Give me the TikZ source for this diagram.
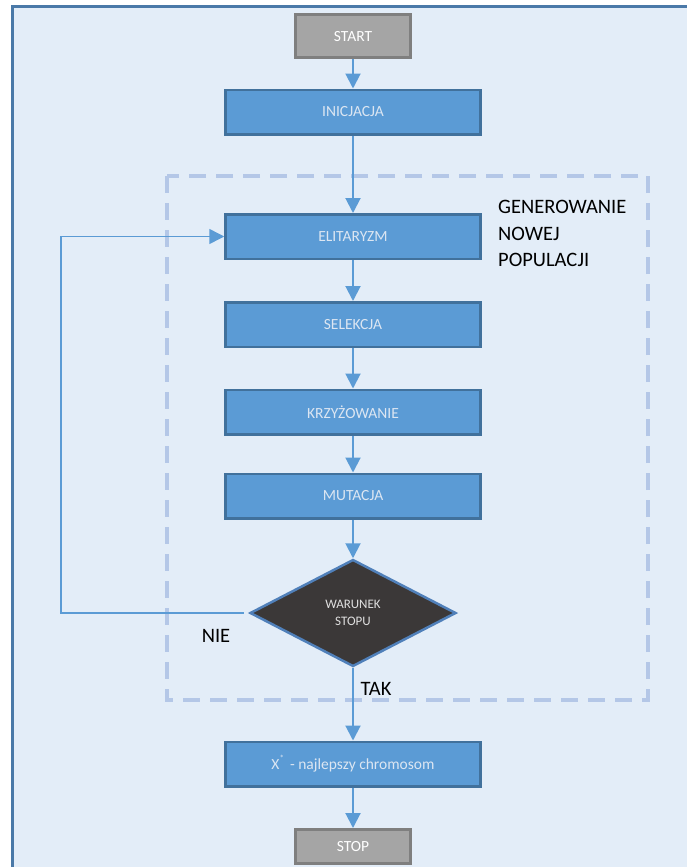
\documentclass[tikz,border=0pt]{standalone}
\usepackage{fontspec}
\setmainfont{Carlito}
\usetikzlibrary{arrows.meta,shapes.geometric}

\definecolor{pagefill}{HTML}{E3EDF8}
\definecolor{frameblue}{HTML}{4A79A8}
\definecolor{boxfill}{HTML}{5B9BD5}
\definecolor{boxedge}{HTML}{41719C}
\definecolor{boxtext}{HTML}{DCE6F2}
\definecolor{termfill}{HTML}{A5A5A5}
\definecolor{termedge}{HTML}{7F7F7F}
\definecolor{groupdash}{HTML}{B4C7E7}
\definecolor{decfill}{HTML}{3B3838}
\definecolor{decedge}{HTML}{5080BA}

\tikzset{
  stepbox/.style={draw=boxedge, fill=boxfill, line width=2.5pt,
    minimum width=255pt, minimum height=44.5pt, inner sep=0pt,
    text=boxtext, font=\fontsize{15.5}{18}\selectfont},
  termbox/.style={draw=termedge, fill=termfill, line width=3pt,
    minimum width=115pt, inner sep=0pt,
    text=white, font=\fontsize{15.5}{18}\selectfont},
  decision/.style={diamond, draw=decedge, fill=decfill, line width=2.5pt,
    minimum width=206pt, minimum height=107pt, inner sep=0pt, aspect=1.9,
    text=white!88!black, align=center, font=\fontsize{13}{17}\selectfont},
  flow/.style={draw=boxfill, line width=2pt,
    -{Triangle[length=15pt,width=15pt]}},
  backflow/.style={draw=boxfill, line width=1.5pt,
    -{Triangle[length=15pt,width=15pt]}},
  group/.style={draw=groupdash, line width=4pt, dash pattern=on 17pt off 10pt},
  label/.style={font=\fontsize{20.5}{26.5}\selectfont, text=black, inner sep=0pt}
}

\begin{document}
\begin{tikzpicture}[x=1pt, y=-1pt]
  \useasboundingbox (0,0) rectangle (687,867);
  \clip (0,0) rectangle (687,867);

  % page panel
  \draw[frameblue, fill=pagefill, line width=3pt] (12.5,6.8) rectangle (700,880);

  % group frame around the generation loop
  \draw[group] (167,176) rectangle (648,700);

  % flow steps
  \node[termbox, minimum height=43pt] (start) at (353,36.5) {START};
  \node[stepbox] (init) at (353,112) {INICJACJA};
  \node[stepbox] (elit) at (353,236.5) {ELITARYZM};
  \node[stepbox] (sel)  at (353,324.5) {SELEKCJA};
  \node[stepbox] (cross) at (353,412) {KRZYŻOWANIE};
  \node[stepbox] (mut)  at (353,496) {MUTACJA};
  \node[decision] (cond) at (353,613) {WARUNEK\\STOPU};
  \node[stepbox] (best) at (353,764)
    {X\raisebox{8pt}{\fontsize{9}{9}\selectfont *}\hspace{6pt}- najlepszy chromosom};
  \node[termbox, minimum height=34pt] (stop) at (353,846.5) {STOP};

  % labels
  \node[label, anchor=west, align=left] (genlabel) at (498,233.5)
    {GENEROWANIE\\NOWEJ\\POPULACJI};
  \node[label] (nolabel) at (216,636) {NIE};
  \node[label] (yeslabel) at (376,689) {TAK};

  % connectors
  \draw[flow] (start) -- (init);
  \draw[flow] (init) -- (elit);
  \draw[flow] (elit) -- (sel);
  \draw[flow] (sel) -- (cross);
  \draw[flow] (cross) -- (mut);
  \draw[flow] (mut) -- (cond);
  \draw[flow] (cond) -- (best);
  \draw[flow] (best) -- (stop);

  \coordinate (loopcorner) at (61,613);
  \draw[backflow] ([xshift=-5pt]cond.west) -- (loopcorner) |- (elit.west);
\end{tikzpicture}
\end{document}
